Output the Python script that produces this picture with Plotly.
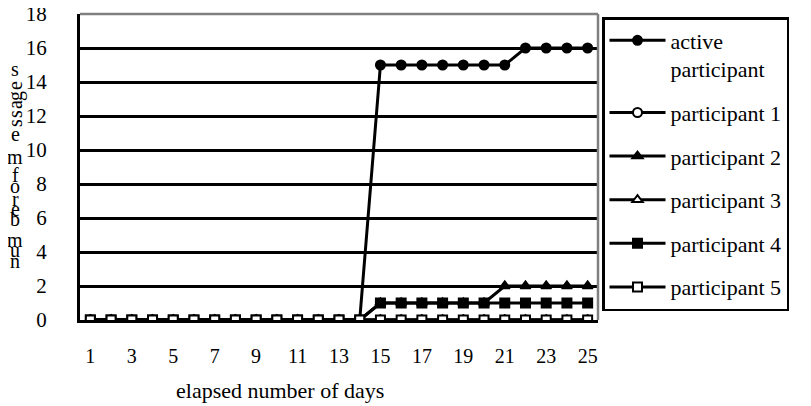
import plotly.graph_objects as go

days = [1, 2, 3, 4, 5, 6, 7, 8, 9, 10, 11, 12, 13, 14, 15, 16, 17, 18, 19, 20, 21, 22, 23, 24, 25]
active = [0, 0, 0, 0, 0, 0, 0, 0, 0, 0, 0, 0, 0, 0, 15, 15, 15, 15, 15, 15, 15, 16, 16, 16, 16]
p1 = [0, 0, 0, 0, 0, 0, 0, 0, 0, 0, 0, 0, 0, 0, 0, 0, 0, 0, 0, 0, 0, 0, 0, 0, 0]
p2 = [0, 0, 0, 0, 0, 0, 0, 0, 0, 0, 0, 0, 0, 0, 1, 1, 1, 1, 1, 1, 2, 2, 2, 2, 2]
p3 = [0, 0, 0, 0, 0, 0, 0, 0, 0, 0, 0, 0, 0, 0, 0, 0, 0, 0, 0, 0, 0, 0, 0, 0, 0]
p4 = [0, 0, 0, 0, 0, 0, 0, 0, 0, 0, 0, 0, 0, 0, 1, 1, 1, 1, 1, 1, 1, 1, 1, 1, 1]
p5 = [0, 0, 0, 0, 0, 0, 0, 0, 0, 0, 0, 0, 0, 0, 0, 0, 0, 0, 0, 0, 0, 0, 0, 0, 0]

series_names = ["active<br>participant", "participant 1", "participant 2",
                "participant 3", "participant 4", "participant 5"]
series_values = [active, p1, p2, p3, p4, p5]
symbols = ["circle", "circle", "triangle-up", "triangle-up", "square", "square"]
fills = ["black", "white", "black", "white", "black", "white"]

x_ticks = [1, 3, 5, 7, 9, 11, 13, 15, 17, 19, 21, 23, 25]
y_ticks = [0, 2, 4, 6, 8, 10, 12, 14, 16, 18]
x_title = "elapsed number of days"
y_title_letters = ["n", "u", "m", "b", "e", "r", "o", "f", "m", "e", "s", "s", "a", "g", "e", "s"]
y_title_pixels = [261, 250, 240, 219, 209, 199, 186, 175, 157, 134, 123, 114, 105, 96, 86, 69]
y_title_angles = [0, 0, 0, 0, 0, 0, 0, 0, 0, 0, -90, -90, -90, -90, -90, 0]

FONT = "Times New Roman, Liberation Serif, DejaVu Serif, serif"
OFF = 8                      # page body offset of the figure
W, H = 811, 406
PX0, PY0, PW, PH = 80, 14, 518, 306   # plot area in window pixels
L, T = PX0 - OFF, PY0 - OFF
R, B = W - L - PW, H - T - PH


def px_to_paper_x(px):
    return (px - PX0) / PW


def py_to_paper_y(py):
    return (PY0 + PH - py) / PH


fig = go.Figure()
for i, (name, vals) in enumerate(zip(series_names, series_values)):
    fig.add_trace(go.Scatter(
        x=days, y=vals, name=name, mode="lines+markers",
        line=dict(color="black", width=3),
        marker=dict(symbol=symbols[i], size=9, color=fills[i],
                    line=dict(color="black", width=2)),
        legendgroup="g%d" % i,
    ))

fig.update_layout(
    width=W, height=H,
    margin=dict(l=L, r=R, t=T, b=B, pad=0, autoexpand=False),
    paper_bgcolor="white", plot_bgcolor="white",
    font=dict(family=FONT, size=20, color="black"),
    showlegend=True,
    legend=dict(
        x=px_to_paper_x(602), y=py_to_paper_y(17), xanchor="left", yanchor="top",
        bordercolor="black", borderwidth=2.5, bgcolor="white",
        font=dict(family=FONT, size=22, color="black"),
        tracegroupgap=12, itemwidth=56, valign="top",
    ),
    xaxis=dict(
        range=[0.5, 25.5], tickmode="array", tickvals=x_ticks,
        ticktext=[str(v) for v in x_ticks],
        showgrid=False, zeroline=False,
        showline=True, linecolor="black", linewidth=3,
        ticks="", ticklabelstandoff=16, ticklabeloverflow="allow",
        tickfont=dict(family=FONT, size=20),
    ),
    yaxis=dict(
        range=[0, 18], tickmode="array", tickvals=y_ticks,
        ticktext=[str(v) for v in y_ticks],
        showgrid=True, gridcolor="black", gridwidth=2.5,
        zeroline=False,
        showline=True, linecolor="black", linewidth=3,
        ticks="", ticklabelstandoff=26, ticklabeloverflow="allow",
        tickfont=dict(family=FONT, size=21),
    ),
)

# plot-area border (top and right, gray)
fig.add_shape(type="line", xref="paper", yref="paper", x0=0, x1=1, y0=1, y1=1,
              line=dict(color="#808080", width=2.5))
fig.add_shape(type="line", xref="paper", yref="paper", x0=1, x1=1, y0=0, y1=1,
              line=dict(color="#808080", width=2.5))

fig.add_annotation(text=x_title, xref="paper", yref="paper",
                   x=px_to_paper_x(280), y=py_to_paper_y(390),
                   xanchor="center", yanchor="middle", showarrow=False,
                   font=dict(family=FONT, size=22, color="black"))

for ch, py, ang in zip(y_title_letters, y_title_pixels, y_title_angles):
    fig.add_annotation(text=ch, xref="paper", yref="paper",
                       x=px_to_paper_x(15), y=py_to_paper_y(py),
                       xanchor="center", yanchor="middle", showarrow=False,
                       textangle=ang,
                       font=dict(family=FONT, size=20, color="black"))

fig.write_html("out.html")
